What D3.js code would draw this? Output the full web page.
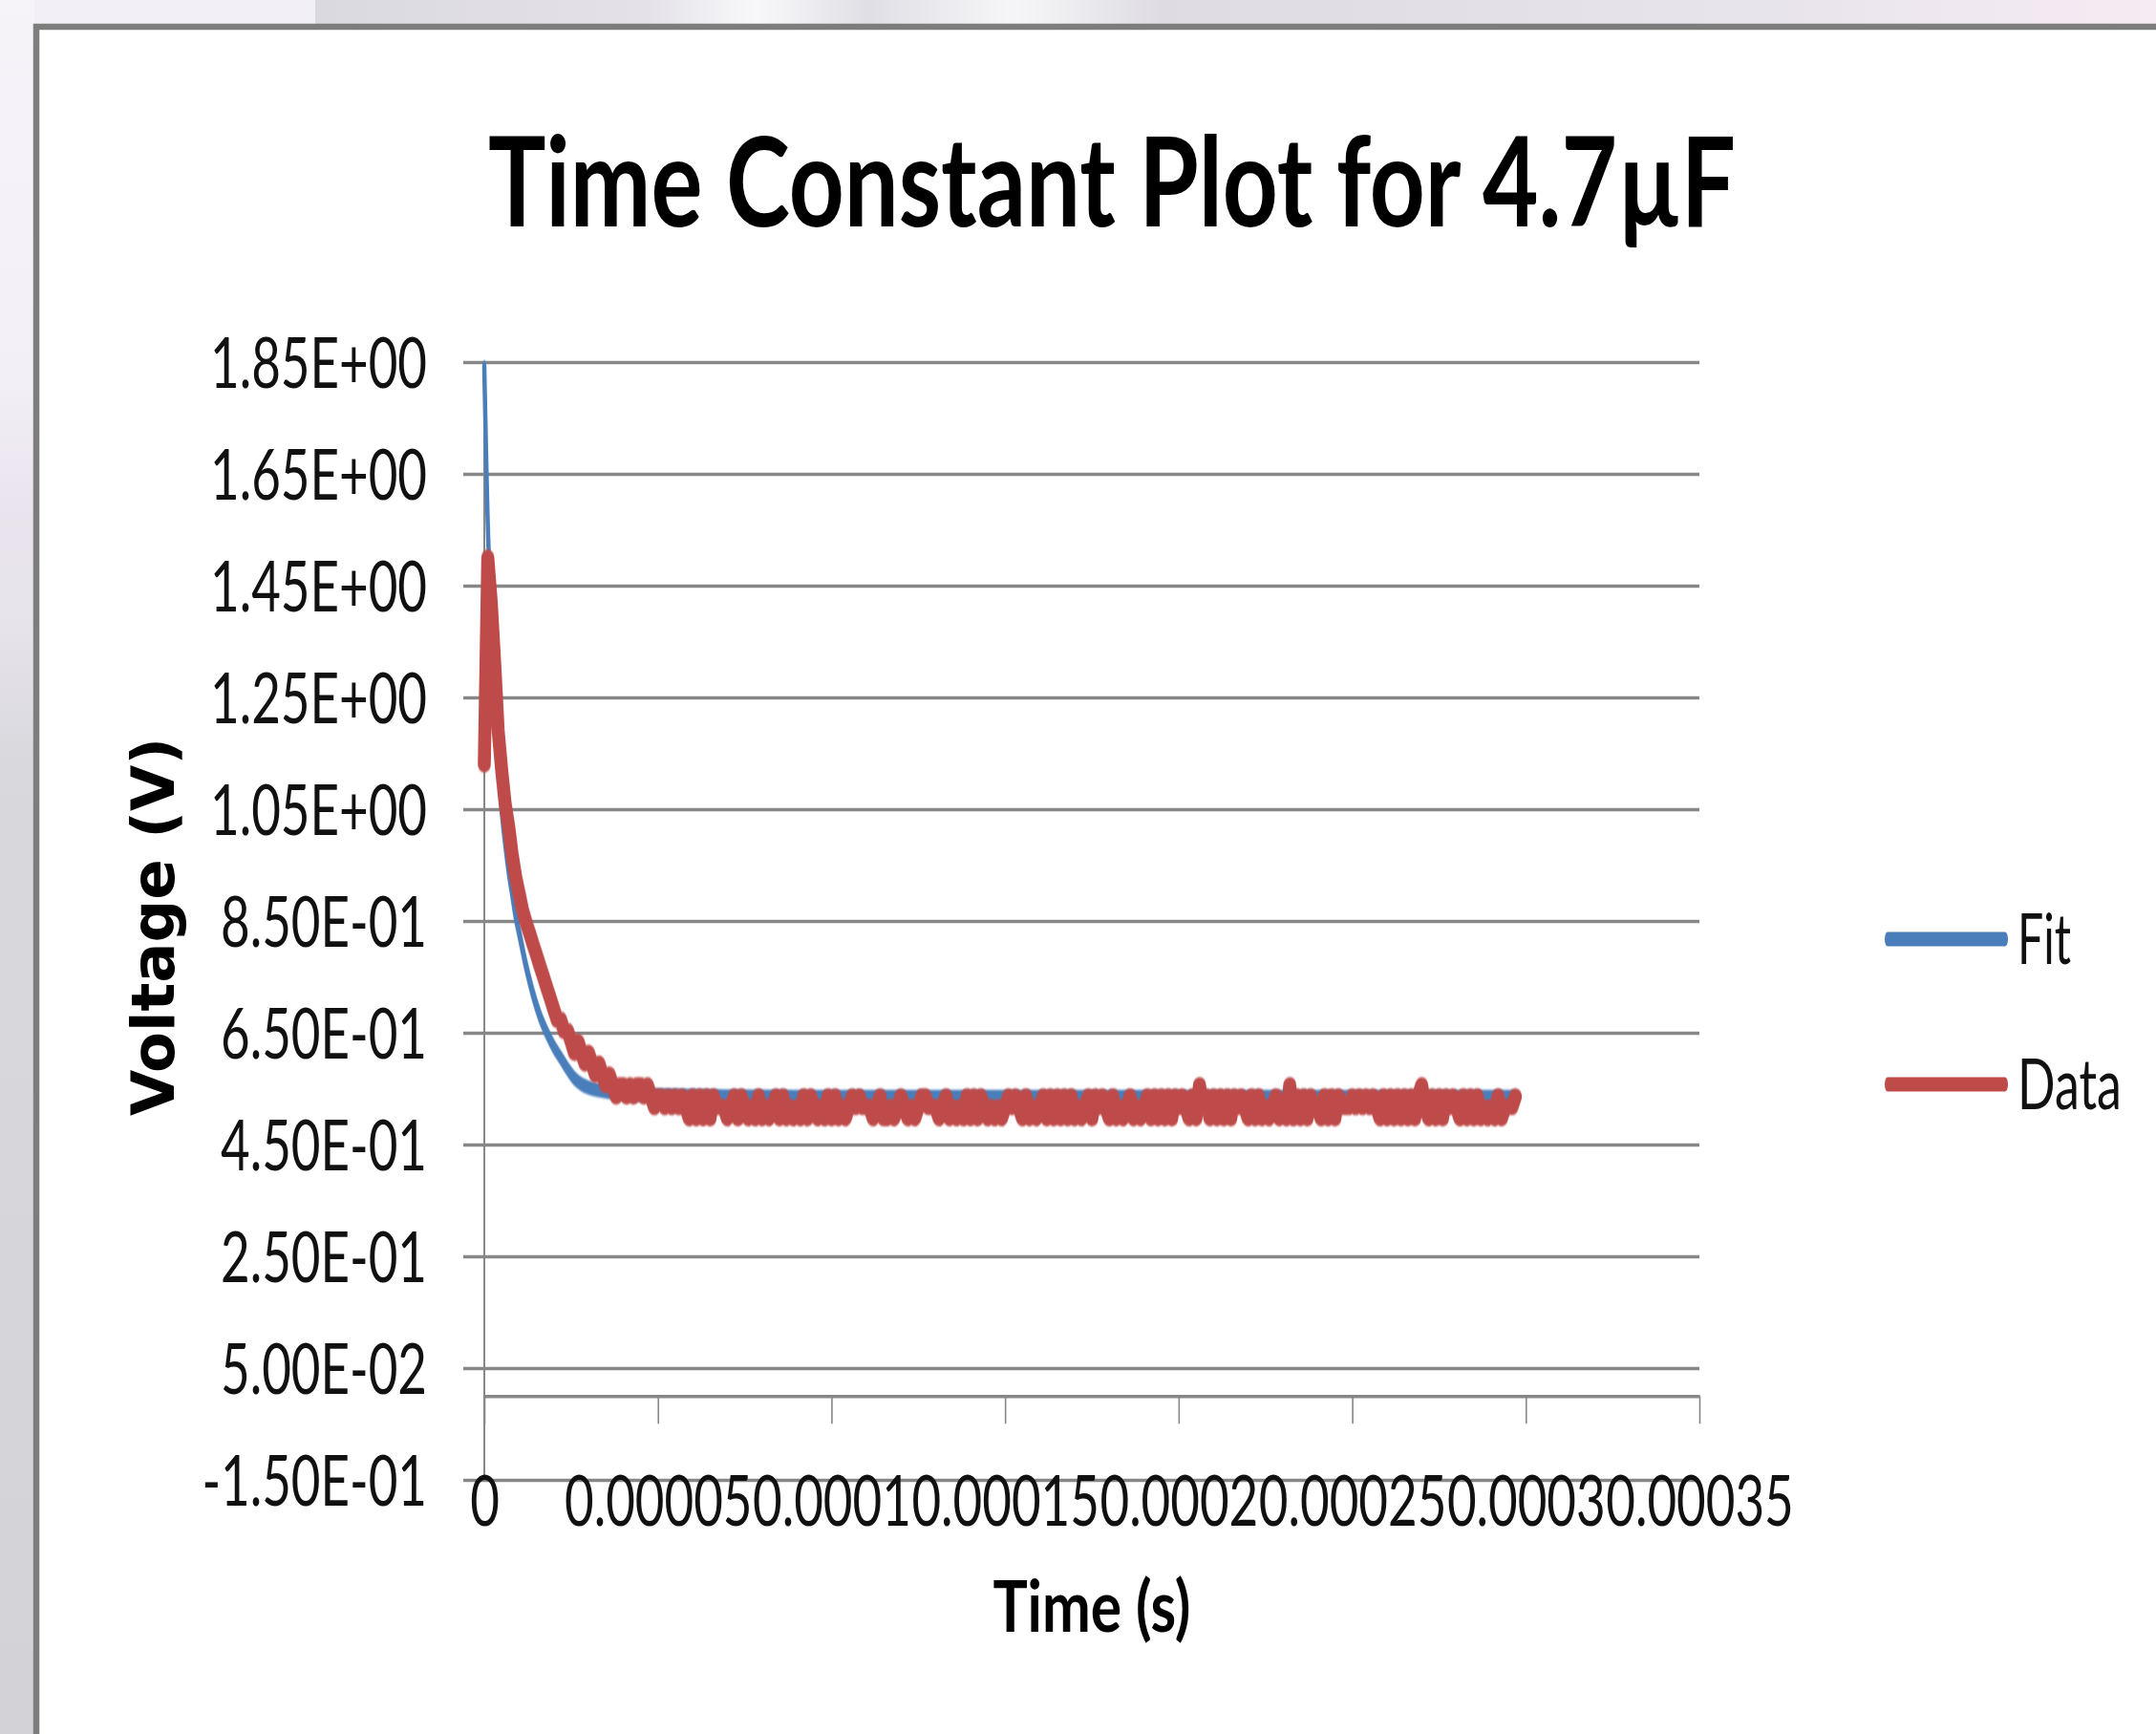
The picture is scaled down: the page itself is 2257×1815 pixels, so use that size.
<!DOCTYPE html>
<html>
<head>
<meta charset="utf-8">
<script src="https://cdn.jsdelivr.net/npm/d3@7"></script>
<style>
  html, body { margin: 0; padding: 0; background: #f2f0f6; }
  svg { display: block; }
</style>
</head>
<body>
<div id="chart"></div>
<script>
// ============================================================
// DATA
// ============================================================
const chartTitle = 'Time Constant Plot for 4.7µF';
const xTitle = 'Time (s)';
const yTitle = 'Voltage (V)';
const seriesNames = ['Fit', 'Data'];
const seriesColors = ['#4A7EBB', '#BE4B48'];

const yTicks = [1.85, 1.65, 1.45, 1.25, 1.05, 0.85, 0.65, 0.45, 0.25, 0.05, -0.15];
const yTickLabels = ['1.85E+00', '1.65E+00', '1.45E+00', '1.25E+00', '1.05E+00',
  '8.50E-01', '6.50E-01', '4.50E-01', '2.50E-01', '5.00E-02', '-1.50E-01'];
const xTicks = [0, 0.00005, 0.0001, 0.00015, 0.0002, 0.00025, 0.0003, 0.00035];
const xTickLabels = ['0', '0.00005', '0.0001', '0.00015', '0.0002', '0.00025', '0.0003', '0.00035'];

// Fit curve (seconds, volts)
const fitTimes = [0, 1e-6, 2e-6, 3e-6, 4e-6, 5e-6, 6e-6, 7e-6, 8e-6, 9e-6, 10e-6,
  12e-6, 14e-6, 16e-6, 18e-6, 20e-6, 22e-6, 24e-6, 26e-6, 28e-6, 30e-6, 34e-6,
  40e-6, 50e-6, 70e-6, 100e-6, 297e-6];
const fitVolts = [1.84, 1.56, 1.40, 1.27, 1.15, 1.05, 0.99, 0.94, 0.90, 0.86, 0.83,
  0.77, 0.72, 0.68, 0.65, 0.625, 0.605, 0.585, 0.568, 0.558, 0.552, 0.546,
  0.541, 0.538, 0.536, 0.535, 0.535];

// Scope trace, one sample per microsecond (volts)
const sampleStep = 1e-6;
const dataVolts = [
  1.13, 1.50, 1.42, 1.31, 1.19, 1.12, 1.06, 1.02, 0.97, 0.93,
  0.90, 0.87, 0.848, 0.829, 0.809, 0.79, 0.77, 0.751, 0.731, 0.712,
  0.692, 0.673, 0.673, 0.653, 0.653, 0.634, 0.614, 0.634, 0.614, 0.595,
  0.614, 0.595, 0.575, 0.595, 0.575,
  0.556, 0.575, 0.556, 0.536, 0.556, 0.556, 0.536, 0.556, 0.536, 0.556, 0.556, 0.536, 0.556,
  0.536, 0.517, 0.536, 0.536, 0.517, 0.536, 0.517, 0.536, 0.517, 0.536, 0.517,
  0.497, 0.536, 0.497, 0.536, 0.497, 0.536, 0.497, 0.536, 0.517, 0.517,
  0.517, 0.497, 0.517, 0.536, 0.497, 0.536, 0.517, 0.497, 0.517, 0.497,
  0.536, 0.497, 0.517, 0.497, 0.517, 0.536, 0.497, 0.536, 0.497, 0.517,
  0.497, 0.517, 0.497, 0.536, 0.497, 0.536, 0.517, 0.497, 0.517, 0.497,
  0.536, 0.497, 0.536, 0.497, 0.517, 0.497, 0.517, 0.536, 0.517, 0.536,
  0.517, 0.517, 0.517, 0.497, 0.517, 0.536, 0.497, 0.497, 0.517, 0.497,
  0.517, 0.536, 0.517, 0.497, 0.517, 0.497, 0.517, 0.536, 0.536, 0.517,
  0.517, 0.517, 0.497, 0.517, 0.536, 0.497, 0.517, 0.497, 0.517, 0.497,
  0.536, 0.497, 0.536, 0.497, 0.536, 0.517, 0.497, 0.517, 0.497, 0.517,
  0.497, 0.517, 0.536, 0.517, 0.536, 0.517, 0.497, 0.536, 0.497, 0.517,
  0.497, 0.517, 0.536, 0.497, 0.536, 0.497, 0.536, 0.497, 0.536, 0.497,
  0.536, 0.497, 0.517, 0.497, 0.517, 0.536, 0.497, 0.536, 0.517, 0.536,
  0.517, 0.497, 0.536, 0.497, 0.517, 0.497, 0.517, 0.536, 0.497, 0.517,
  0.497, 0.517, 0.536, 0.497, 0.536, 0.497, 0.536, 0.497, 0.536, 0.497,
  0.536, 0.517, 0.536, 0.517, 0.497, 0.536, 0.497, 0.556, 0.517, 0.536,
  0.497, 0.536, 0.497, 0.536, 0.497, 0.536, 0.497, 0.536, 0.517, 0.536,
  0.517, 0.497, 0.536, 0.497, 0.536, 0.497, 0.517, 0.497, 0.517, 0.536,
  0.497, 0.517, 0.497, 0.556, 0.497, 0.536, 0.497, 0.536, 0.497, 0.536,
  0.517, 0.517, 0.497, 0.536, 0.497, 0.536, 0.497, 0.536, 0.517, 0.517,
  0.517, 0.536, 0.517, 0.536, 0.517, 0.536, 0.517, 0.536, 0.517, 0.497,
  0.536, 0.497, 0.536, 0.497, 0.536, 0.497, 0.536, 0.497, 0.536, 0.497,
  0.536, 0.556, 0.517, 0.497, 0.536, 0.497, 0.536, 0.497, 0.536, 0.517,
  0.536, 0.517, 0.497, 0.536, 0.497, 0.536, 0.497, 0.536, 0.497, 0.517,
  0.497, 0.517, 0.497, 0.536, 0.497, 0.517, 0.517, 0.517, 0.536
];

// ============================================================
// LAYOUT
// ============================================================
const W = 2257, H = 1815;
const plotLeft = 507, plotRight = 1779, plotTop = 379, plotBottom = 1549;
const gridColor = '#878787';
const labelFont = 'Lato, "Open Sans", sans-serif';

const svg = d3.select('#chart').append('svg')
  .attr('width', W).attr('height', H);

// squeeze text horizontally (the source picture is narrowed)
function squeeze(sel, k) {
  sel.each(function () {
    const len = this.getComputedTextLength();
    d3.select(this).attr('textLength', len * k).attr('lengthAdjust', 'spacingAndGlyphs');
  });
}
function fitTo(sel, w) {
  sel.attr('textLength', w).attr('lengthAdjust', 'spacingAndGlyphs');
}

// ---- SLIDE BACKGROUND ----
const defs = svg.append('defs');
const topGrad = defs.append('linearGradient').attr('id', 'topGrad');
[[0, '#dad9df'], [0.18, '#e4e2e8'], [0.24, '#f8f8fa'], [0.3, '#e0dfe5'],
 [0.38, '#f6f6f8'], [0.46, '#dedce2'], [0.75, '#e6e3eb'], [1, '#f5ebf3']]
  .forEach(([o, c]) => topGrad.append('stop').attr('offset', o).attr('stop-color', c));
const leftGrad = defs.append('linearGradient').attr('id', 'leftGrad')
  .attr('x1', 0).attr('y1', 0).attr('x2', 0).attr('y2', 1);
[[0, '#f6f4f9'], [0.22, '#f2eff6'], [0.3, '#e9e3ec'], [0.36, '#e6e4ea'],
 [0.44, '#d9d8dd'], [1, '#d3d3d7']]
  .forEach(([o, c]) => leftGrad.append('stop').attr('offset', o).attr('stop-color', c));
defs.append('filter').attr('id', 'soft')
  .append('feGaussianBlur').attr('stdDeviation', 0.8);

svg.append('rect').attr('width', W).attr('height', H).attr('fill', '#f2f0f6');
svg.append('rect').attr('x', 330).attr('y', 0).attr('width', W - 330).attr('height', 28)
  .attr('fill', 'url(#topGrad)');
svg.append('rect').attr('x', 0).attr('y', 0).attr('width', 36).attr('height', H)
  .attr('fill', 'url(#leftGrad)');

// ---- CHART FRAME ----
svg.append('rect')
  .attr('x', 38).attr('y', 28)
  .attr('width', W).attr('height', H)
  .attr('fill', '#ffffff')
  .attr('stroke', '#7d7d7d').attr('stroke-width', 6.5);

// ---- SCALES ----
const xScale = d3.scaleLinear().domain([0, 0.00035]).range([plotLeft, plotRight]);
const yScale = d3.scaleLinear().domain([-0.15, 1.85]).range([plotBottom, plotTop]);

// ---- GRID LINES ----
svg.append('g')
  .attr('transform', `translate(${plotLeft},0)`)
  .call(d3.axisLeft(yScale).tickValues(yTicks).tickFormat('')
    .tickSize(-(plotRight - plotLeft)))
  .call(g => g.select('.domain').remove())
  .call(g => g.selectAll('line')
    .attr('x1', -22)
    .attr('stroke', gridColor).attr('stroke-width', 3.5));

// ---- Y AXIS LINE ----
svg.append('line')
  .attr('x1', xScale(0)).attr('x2', xScale(0))
  .attr('y1', yScale(1.85)).attr('y2', yScale(-0.15))
  .attr('stroke', gridColor).attr('stroke-width', 2);

// ---- X AXIS (crosses at 0 V) ----
const xAxisG = svg.append('g')
  .attr('transform', `translate(0,${yScale(0)})`)
  .call(d3.axisBottom(xScale).tickValues(xTicks)
    .tickFormat((d, i) => xTickLabels[i])
    .tickSize(29).tickSizeOuter(0));
xAxisG.select('.domain').attr('stroke', gridColor).attr('stroke-width', 3.5);
xAxisG.selectAll('.tick line').attr('stroke', gridColor).attr('stroke-width', 1.6);

// ---- Y TICK LABELS ----
const yAxisG = svg.append('g')
  .attr('transform', `translate(${plotLeft},0)`)
  .call(d3.axisLeft(yScale).tickValues(yTicks)
    .tickFormat((d, i) => yTickLabels[i])
    .tickSize(0).tickPadding(60));
yAxisG.select('.domain').remove();
yAxisG.selectAll('.tick line').remove();

const tickTexts = d3.selectAll([...yAxisG.selectAll('text').nodes(), ...xAxisG.selectAll('text').nodes()]);
tickTexts
  .attr('font-family', labelFont)
  .attr('font-size', 74)
  .attr('fill', '#111');
yAxisG.selectAll('text').attr('dy', '0.36em');
xAxisG.selectAll('text').attr('y', 136).attr('dy', 0);

const refLen = yAxisG.select('text').node().getComputedTextLength();
squeeze(tickTexts, 227 / refLen);

// ---- SERIES LINES ----
// each line sits in a horizontally narrowed frame, so steep strokes come out thinner
function drawSeries(points, color, sx, width, curve) {
  const g = svg.append('g').attr('transform', `scale(${sx},1)`);
  g.append('path')
    .datum(points)
    .attr('fill', 'none')
    .attr('stroke', color)
    .attr('stroke-width', width)
    .attr('stroke-linejoin', 'round').attr('stroke-linecap', 'round')
    .attr('filter', 'url(#soft)')
    .attr('d', d3.line().curve(curve)
      .x(d => xScale(d.t) / sx).y(d => yScale(d.v)));
}

const fitPoints = fitTimes.map((t, i) => ({ t, v: fitVolts[i] }));
const dataPoints = dataVolts.map((v, i) => ({ t: i * sampleStep, v }));

drawSeries(fitPoints, seriesColors[0], 0.3, 15, d3.curveMonotoneX);
drawSeries(dataPoints, seriesColors[1], 0.8, 17, d3.curveLinear);

// ---- LEGEND ----
const legendY = [983, 1135];
const legendWidths = [56, 109];
const legendSx = 0.4;
const legendG = svg.append('g').attr('transform', `scale(${legendSx},1)`);
seriesNames.forEach((name, i) => {
  legendG.append('line')
    .attr('x1', 1976 / legendSx).attr('x2', 2099 / legendSx)
    .attr('y1', legendY[i]).attr('y2', legendY[i])
    .attr('stroke', seriesColors[i]).attr('stroke-width', 15)
    .attr('stroke-linecap', 'round');
  svg.append('text')
    .attr('x', 2112).attr('y', legendY[i] + 26)
    .attr('font-family', labelFont).attr('font-size', 74).attr('fill', '#111')
    .text(name)
    .call(fitTo, legendWidths[i]);
});

// ---- CHART TITLE ----
svg.append('text')
  .attr('x', 1164).attr('y', 237)
  .attr('text-anchor', 'middle')
  .attr('font-family', labelFont).attr('font-weight', 700)
  .attr('font-size', 130).attr('fill', '#000')
  .text(chartTitle)
  .call(fitTo, 1306);

// ---- X AXIS TITLE ----
svg.append('text')
  .attr('x', (plotLeft + plotRight) / 2).attr('y', 1708)
  .attr('text-anchor', 'middle')
  .attr('font-family', labelFont).attr('font-weight', 700)
  .attr('font-size', 74).attr('fill', '#000')
  .text(xTitle)
  .call(fitTo, 207);

// ---- Y AXIS TITLE ----
svg.append('text')
  .attr('transform', 'translate(182,970) rotate(-90)')
  .attr('text-anchor', 'middle')
  .attr('font-family', '"DejaVu Sans", sans-serif').attr('font-weight', 700)
  .attr('font-size', 62).attr('fill', '#000')
  .text(yTitle)
  .call(fitTo, 396);
</script>
</body>
</html>
